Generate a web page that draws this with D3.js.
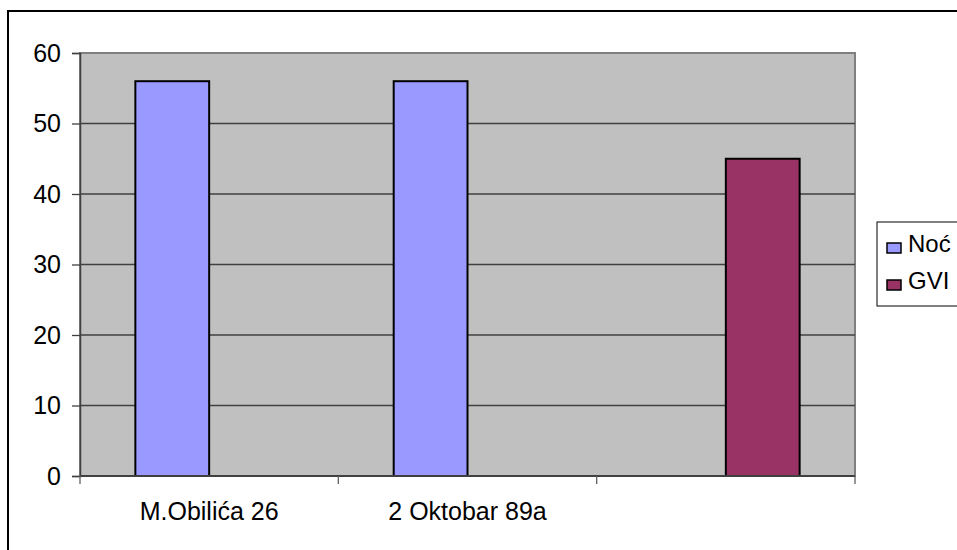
<!DOCTYPE html>
<html>
<head>
<meta charset="utf-8">
<script src="https://cdn.jsdelivr.net/npm/d3@7"></script>
<style>
  body { margin: 0; background: #fff; }
  svg { display: block; font-family: "Liberation Sans", Arial, sans-serif; }
</style>
</head>
<body>
<script>
// chart values
let categories = ['M.Obilića 26', '2 Oktobar 89a', ''];
let seriesNames = ['Noć', 'GVI'];
let nocValues = [56, 56, null];
let gviValues = [null, null, 45];
let yTicks = [0, 10, 20, 30, 40, 50, 60];
let colors = ['#9999ff', '#993366'];

let width = 957, height = 550;
let plot = {left: 80, top: 53, right: 855, bottom: 476};

let svg = d3.select('body').append('svg').attr('width', width).attr('height', height);

// outer frame (right/bottom run off the picture)
svg.append('rect').attr('x', 8).attr('y', 11).attr('width', 960).attr('height', 560)
  .attr('fill', 'none').attr('stroke', '#000').attr('stroke-width', 2);

let x = d3.scaleBand().domain(d3.range(categories.length)).range([plot.left, plot.right]);
let y = d3.scaleLinear().domain([0, 60]).range([plot.bottom, plot.top]);

// plot background
svg.append('rect').attr('x', plot.left).attr('y', plot.top)
  .attr('width', plot.right - plot.left).attr('height', plot.bottom - plot.top)
  .attr('fill', '#c0c0c0').attr('stroke', '#808080').attr('stroke-width', 2);

// gridlines
svg.append('g').selectAll('line').data(yTicks.filter(d => d > 0 && d < 60)).enter().append('line')
  .attr('x1', plot.left).attr('x2', plot.right)
  .attr('y1', d => y(d)).attr('y2', d => y(d))
  .attr('stroke', '#404040').attr('stroke-width', 1.3);

// bars: two slots per category, gap width 150%
let slotW = x.bandwidth() / (2 + 1.5);
let series = [nocValues, gviValues];
series.forEach(function(vals, s) {
  svg.append('g').selectAll('rect').data(vals.map((v, i) => ({v: v, i: i})).filter(d => d.v != null))
    .enter().append('rect')
    .attr('x', d => x(d.i) + slotW * 0.75 + s * slotW)
    .attr('y', d => y(d.v))
    .attr('width', slotW)
    .attr('height', d => y(0) - y(d.v))
    .attr('fill', colors[s]).attr('stroke', '#000').attr('stroke-width', 2);
});

// y axis
let yAxis = svg.append('g').attr('transform', 'translate(' + plot.left + ',0)')
  .call(d3.axisLeft(y).tickValues(yTicks).tickSize(8).tickPadding(11));
yAxis.select('.domain').attr('stroke', '#404040').attr('stroke-width', 1.5);
yAxis.selectAll('.tick line').attr('stroke', '#404040').attr('stroke-width', 1.3);
yAxis.selectAll('text').attr('font-size', 25).attr('fill', '#000')
  .attr('font-family', '"Liberation Sans", Arial, sans-serif');

// x axis
let xAxis = svg.append('g').attr('transform', 'translate(0,' + plot.bottom + ')');
xAxis.append('line').attr('x1', plot.left).attr('x2', plot.right)
  .attr('stroke', '#404040').attr('stroke-width', 2);
xAxis.selectAll('line.tk').data(d3.range(categories.length + 1)).enter().append('line')
  .attr('class', 'tk')
  .attr('x1', i => plot.left + i * x.step()).attr('x2', i => plot.left + i * x.step())
  .attr('y1', 0).attr('y2', 8).attr('stroke', '#606060').attr('stroke-width', 1.3);
xAxis.selectAll('text').data(categories).enter().append('text')
  .attr('x', (d, i) => x(i) + x.bandwidth() / 2).attr('y', 44)
  .attr('text-anchor', 'middle').attr('font-size', 25).text(d => d);

// legend
let legend = svg.append('g');
legend.append('rect').attr('x', 877).attr('y', 222).attr('width', 100).attr('height', 84)
  .attr('fill', '#fff').attr('stroke', '#000').attr('stroke-width', 1);
let items = legend.selectAll('g.item').data(seriesNames).enter().append('g')
  .attr('transform', (d, i) => 'translate(887,' + (243 + i * 37) + ')');
items.append('rect').attr('width', 14).attr('height', 10)
  .attr('fill', (d, i) => colors[i]).attr('stroke', '#000').attr('stroke-width', 1.5);
items.append('text').attr('x', 21).attr('y', 9).attr('font-size', 24).text(d => d);
</script>
</body>
</html>
